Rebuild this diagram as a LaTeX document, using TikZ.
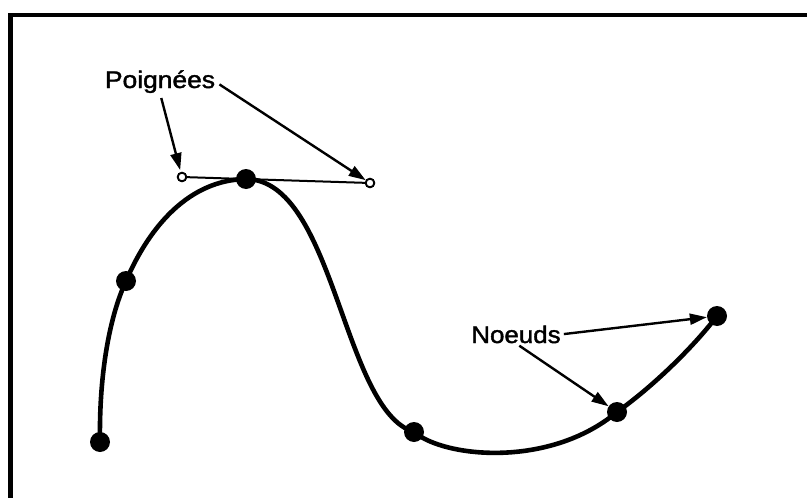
\documentclass[tikz,border=0pt]{standalone}
\usepackage{fontspec}
\setmainfont{Liberation Sans}
\newfontfamily\lblfont{Liberation Sans}[FakeBold=1.5]
\usetikzlibrary{arrows.meta}
\begin{document}
\begin{tikzpicture}[x=1pt,y=-1pt,
  knot/.style={circle,fill=black,inner sep=0pt,minimum size=20pt},
  handle/.style={circle,draw=black,fill=white,line width=1.8pt,inner sep=0pt,minimum size=8.5pt},
  lbl/.style={inner sep=0pt,font=\lblfont\fontsize{24}{26}\selectfont},
  arr/.style={line width=2.4pt,-{Triangle[length=17pt,width=11pt]}},
  curve/.style={line width=4.6pt},
  frame/.style={line width=4.5pt,line cap=rect}]
\useasboundingbox (0,0) rectangle (807,498);
% frame (top and left edges)
\coordinate (fb) at (10.5,500);
\coordinate (fc) at (10.5,15);
\coordinate (fr) at (809,15);
\draw[frame] (fb) -- (fc) -- (fr);
% knot and handle positions
\coordinate (p1) at (100,442);
\coordinate (p2) at (126,281);
\coordinate (p3) at (246,179);
\coordinate (p4) at (414,432);
\coordinate (p5) at (617,412);
\coordinate (p6) at (717,316);
% handles
\node[handle] (h1) at (182,177) {};
\node[handle] (h2) at (370,183) {};
% curve
\draw[curve] (p1) .. controls (99,380) and (108,320) .. (p2)
  .. controls (150,225) and (190,180) .. (p3)
  .. controls (335,180) and (342,410) .. (p4)
  .. controls (445,458) and (550,468) .. (p5)
  .. controls (655,385) and (695,345) .. (p6);
\draw[line width=2pt] (h1) -- (h2);
\node[handle] at (h1) {};
\node[handle] at (h2) {};
% knots
\node[knot] (k1) at (p1) {};
\node[knot] (k2) at (p2) {};
\node[knot] (k3) at (p3) {};
\node[knot] (k4) at (p4) {};
\node[knot] (k5) at (p5) {};
\node[knot] (k6) at (p6) {};
% labels
\node[lbl,anchor=base] (poig) at (160,88) {\scalebox{1.1}[1]{Poignées}};
\node[lbl,anchor=base] (noeud) at (516,343) {\scalebox{1.08}[1]{Noeuds}};
% arrows
\draw[arr,shorten <=5pt,shorten >=2pt] (poig.south) -- (h1);
\draw[arr,shorten <=5pt] (poig.east) -- (h2);
\draw[arr,shorten <=3pt] (noeud.east) -- (k6);
\draw[arr,shorten <=4pt] (noeud.south) -- (k5);
\end{tikzpicture}
\end{document}
